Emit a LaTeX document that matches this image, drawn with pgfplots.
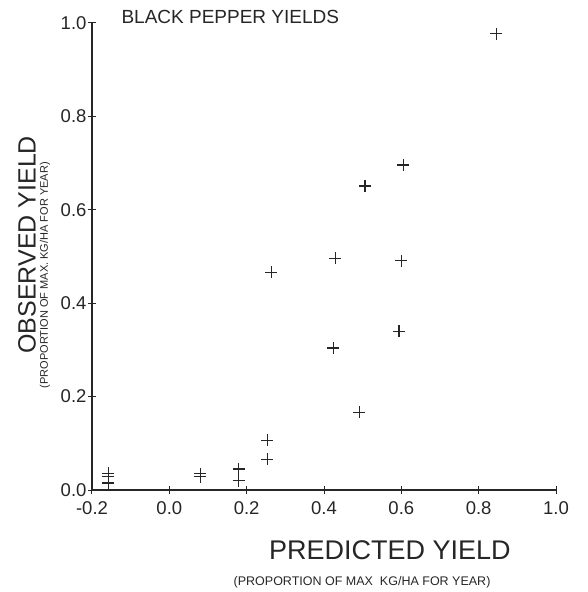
\documentclass[border=0pt]{standalone}
\usepackage{pgfplots}
\pgfplotsset{compat=1.18}
\usepackage{fontspec}
\setmainfont{Liberation Sans}
\definecolor{ink}{HTML}{262626}
\begin{document}
\begin{tikzpicture}[x=1pt,y=1pt]
\begin{axis}[
    at={(92pt,102pt)}, anchor=south west,
    width=464pt, height=467pt, scale only axis,
    xmin=-0.2, xmax=1.0, ymin=0, ymax=1.0,
    axis lines*=left,
    axis line style={line width=1.5pt,ink,-},
    xtick={-0.2,0,0.2,0.4,0.6,0.8,1.0},
    xticklabels={-0.2,0.0,0.2,0.4,0.6,0.8,1.0},
    ytick={0,0.2,0.4,0.6,0.8,1.0},
    yticklabels={0.0,0.2,0.4,0.6,0.8,1.0},
    tick align=center,
    major tick length=8pt,
    tick style={line width=1pt,ink},
    ticklabel style={font=\fontsize{18.5}{18.5}\selectfont, text=ink},
    xticklabel style={yshift=-4pt},
    yticklabel style={xshift=2pt},
    clip=false,
]
% observed vs predicted
\addplot[only marks, mark=+, mark size=6pt, line width=1.1pt, ink] coordinates {
    (0.845, 0.977)
    (0.605, 0.696)
    (0.506, 0.651)
    (0.429, 0.496)
    (0.600, 0.491)
    (0.264, 0.466)
    (0.594, 0.340)
    (0.424, 0.304)
    (0.491, 0.166)
    (0.253, 0.106)
    (0.253, 0.066)
    (-0.158, 0.036)
    (-0.158, 0.028)
    (-0.158, 0.015)
    (0.080, 0.035)
    (0.080, 0.028)
    (0.180, 0.045)
    (0.180, 0.020)
};

\node[anchor=west, text=ink, font=\fontsize{19}{19}\selectfont]
    at (rel axis cs:0.056,1.013) {BLACK PEPPER YIELDS};
\node[text=ink, font=\fontsize{27}{27}\selectfont]
    at (rel axis cs:0.642,-0.128) {PREDICTED YIELD};
\node[text=ink, font=\fontsize{12.5}{12.5}\selectfont]
    at (rel axis cs:0.582,-0.197) {(PROPORTION OF MAX\ \ KG/HA FOR YEAR)};
\node[rotate=90, text=ink, font=\fontsize{25}{25}\selectfont]
    at (rel axis cs:-0.140,0.525) {OBSERVED YIELD};
\node[rotate=90, text=ink, font=\fontsize{11}{11}\selectfont]
    at (rel axis cs:-0.101,0.460) {(PROPORTION OF MAX. KG/HA FOR YEAR)};
\end{axis}
\pgfresetboundingbox
\path (0,0) rectangle (588pt,592pt);
\end{tikzpicture}
\end{document}
